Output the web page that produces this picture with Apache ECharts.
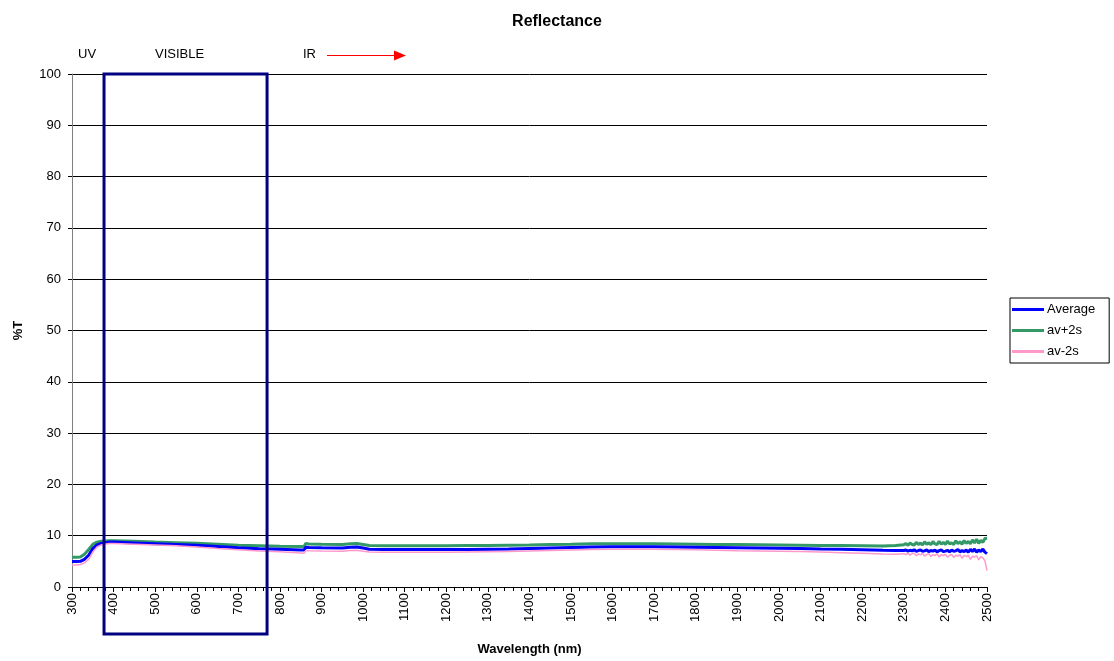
<!DOCTYPE html>
<html><head><meta charset="utf-8">
<script src="https://cdn.jsdelivr.net/npm/echarts@6/dist/echarts.min.js"></script>
<style>html,body{margin:0;padding:0;background:#fff;overflow:hidden}#c{width:1114px;height:661px}</style>
</head><body><div id="c"></div>
<script>
const wavelengths = [300,310,320,330,340,350,360,370,380,390,400,
  450,500,550,600,650,700,750,800,850,
  858,862,870,
  900,950,970,985,1000,1015,
  1050,1100,1150,1200,1250,1300,1350,1400,1450,1500,1550,1600,1650,1700,1750,1800,1850,1900,1950,2000,2050,2100,2150,2200,2250,
  2280,
  2300,2305,2310,2315,2320,2325,2330,2335,2340,
  2345,2350,2355,2360,2365,2370,2375,2380,2385,2390,
  2395,2400,2405,2410,2415,2420,2425,2430,2435,2440,
  2445,2450,2455,2460,2465,2470,2475,2480,2485,2490,
  2495,2500];
const average = [4.98,4.98,5.0,5.4,6.2,7.5,8.2,8.5,8.65,8.75,8.75,
  8.6,8.45,8.3,8.15,7.9,7.65,7.45,7.35,7.2,
  7.2,7.75,7.7,
  7.65,7.6,7.75,7.8,7.6,7.35,
  7.3,7.3,7.3,7.3,7.3,7.35,7.4,7.5,7.6,7.7,7.8,7.85,7.85,7.85,7.8,7.75,7.7,7.65,7.6,7.55,7.5,7.4,7.35,7.25,7.15,
  7.1,
  7.1,7.2,7.0,7.15,7.05,7.25,6.95,7.1,7.2,
  6.95,7.05,7.25,6.9,7.1,7.0,7.2,6.85,7.1,7.25,
  6.9,7.0,7.15,6.85,7.2,6.95,7.05,7.3,6.85,7.1,
  6.9,7.2,6.8,7.35,6.9,7.4,6.8,7.2,6.9,7.4,
  6.8,6.5];
const avPlus2s = [5.8,5.8,5.85,6.4,7.3,8.3,8.75,8.9,8.95,9.0,9.0,
  8.9,8.75,8.65,8.55,8.35,8.15,8.05,7.95,7.9,
  7.9,8.5,8.4,
  8.35,8.3,8.45,8.5,8.3,8.1,
  8.05,8.05,8.05,8.05,8.1,8.1,8.15,8.2,8.3,8.35,8.45,8.45,8.45,8.45,8.4,8.35,8.3,8.3,8.25,8.2,8.15,8.1,8.1,8.05,8.0,
  8.1,
  8.25,8.45,8.15,8.6,8.3,8.2,8.7,8.3,8.55,
  8.2,8.8,8.35,8.6,8.25,8.85,8.4,8.3,8.9,8.35,
  8.7,8.3,8.95,8.4,8.6,8.3,9.0,8.45,8.8,8.35,
  9.05,8.5,8.9,8.4,9.2,8.6,9.3,8.5,9.1,8.7,
  9.45,9.5];
const avMinus2s = [4.3,4.3,4.4,4.7,5.4,6.8,7.8,8.2,8.4,8.5,8.5,
  8.35,8.2,8.05,7.8,7.5,7.25,7.0,6.85,6.65,
  6.6,7.1,7.05,
  7.0,6.95,7.1,7.15,6.95,6.8,
  6.75,6.75,6.75,6.75,6.8,6.85,6.9,7.0,7.1,7.2,7.3,7.35,7.35,7.35,7.3,7.25,7.15,7.05,7.0,6.95,6.9,6.8,6.7,6.6,6.45,
  6.4,
  6.5,6.3,6.6,6.2,6.5,6.6,6.1,6.45,6.25,
  6.55,6.0,6.35,6.5,5.95,6.3,6.15,6.45,5.85,6.3,
  6.1,6.4,5.8,6.2,6.35,5.75,6.2,6.0,6.3,5.6,
  6.15,5.9,6.2,5.4,6.0,5.8,6.1,5.3,5.9,5.7,
  5.1,3.2];
const regionLabels = ['UV','VISIBLE','IR'];
const visibleRange = [377, 769];

const pair = arr => wavelengths.map((w,i)=>[w,arr[i]]);
const FONT = 'Liberation Sans, Arial, sans-serif';
const chart = echarts.init(document.getElementById('c'));
chart.setOption({
  animation:false,
  backgroundColor:'#fff',
  textStyle:{fontFamily:FONT},
  title:{text:'Reflectance',left:'center',top:9,textStyle:{fontSize:16,fontWeight:'bold',color:'#000',fontFamily:FONT}},
  grid:{left:72,width:915,top:74,height:514,containLabel:false},
  legend:{orient:'vertical',left:1010,top:298,itemWidth:32,itemHeight:3,itemGap:8,
    padding:[5,14,5,2],borderColor:'#000',borderWidth:1,
    textStyle:{fontSize:13,color:'#000',fontFamily:FONT,padding:[0,0,0,-2]},
    icon:'rect',
    data:['Average','av+2s','av-2s']},
  xAxis:{type:'value',min:300,max:2500,interval:100,
    name:'Wavelength (nm)',nameLocation:'middle',nameGap:56,
    nameTextStyle:{fontSize:13,fontWeight:'bold',color:'#000',fontFamily:FONT},
    axisLine:{lineStyle:{color:'#000',width:1}},
    axisTick:{show:true,length:5,lineStyle:{color:'#000'}},
    minorTick:{show:true,splitNumber:5,length:4,lineStyle:{color:'#000'}},
    splitLine:{show:false},
    axisLabel:{rotate:90,fontSize:13,color:'#000',margin:6,fontFamily:FONT,formatter:v=>String(v)}},
  yAxis:{type:'value',min:0,max:100,interval:10,
    name:'%T',nameLocation:'middle',nameGap:47,
    nameTextStyle:{fontSize:13,fontWeight:'bold',color:'#000',fontFamily:FONT},
    axisLine:{show:true,lineStyle:{color:'#808080',width:1}},
    axisTick:{show:true,length:4,lineStyle:{color:'#000'}},
    splitLine:{show:true,lineStyle:{color:'#000',width:1}},
    axisLabel:{fontSize:13,color:'#000',margin:11,fontFamily:FONT}},
  series:[
    {name:'av+2s',type:'line',data:pair(avPlus2s),showSymbol:false,symbol:'none',lineStyle:{color:'#339966',width:3},itemStyle:{color:'#339966'},z:2},
    {name:'Average',type:'line',data:pair(average),showSymbol:false,symbol:'none',lineStyle:{color:'#0000FF',width:3},itemStyle:{color:'#0000FF'},z:3},
    {name:'av-2s',type:'line',data:pair(avMinus2s),showSymbol:false,symbol:'none',lineStyle:{color:'#FF99CC',width:1.5},itemStyle:{color:'#FF99CC'},z:4}
  ]
});

const p1 = chart.convertToPixel({gridIndex:0},[visibleRange[0],100]);
const p2 = chart.convertToPixel({gridIndex:0},[visibleRange[1],0]);
const boxBottom = p2[1] + 47;
chart.setOption({graphic:[
  {type:'rect',shape:{x:p1[0],y:p1[1],width:p2[0]-p1[0],height:boxBottom-p1[1]},
   style:{fill:'none',stroke:'#000080',lineWidth:3},z:10},
  {type:'text',left:78,top:48,style:{text:regionLabels[0],font:'13px '+FONT,fill:'#000'}},
  {type:'text',left:155,top:48,style:{text:regionLabels[1],font:'13px '+FONT,fill:'#000'}},
  {type:'text',left:303,top:48,style:{text:regionLabels[2],font:'13px '+FONT,fill:'#000'}},
  {type:'line',shape:{x1:327,y1:55.5,x2:396,y2:55.5},style:{stroke:'#FF0000',lineWidth:1}},
  {type:'polygon',shape:{points:[[394,50.5],[406,55.5],[394,60.5]]},style:{fill:'#FF0000'}}
]});
</script></body></html>
